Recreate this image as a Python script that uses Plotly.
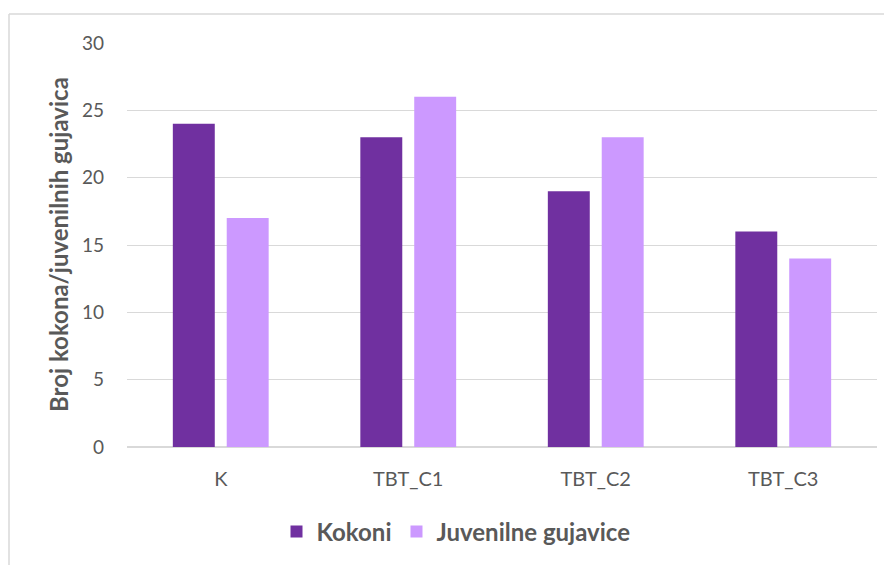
import plotly.graph_objects as go

categories = ["K", "TBT_C1", "TBT_C2", "TBT_C3"]
kokoni = [24, 23, 19, 16]
juvenilne = [17, 26, 23, 14]
series_names = ["Kokoni", "Juvenilne gujavice"]
y_ticks = [0, 5, 10, 15, 20, 25, 30]

FONT = "Lato, 'Open Sans', sans-serif"
GRAY = "#595959"

# page body has an 8px default margin; plot area in window: x 127..877, y 43..447
OFF = 8
L, R, T, B = 127 - OFF, 877 - OFF, 43 - OFF, 447 - OFF
W, H = 892, 565
PW, PH = R - L, B - T


def px_x(x):
    return (x - OFF - L) / PW


def px_y(y):
    return (B - (y - OFF)) / PH


fig = go.Figure()
fig.add_trace(go.Bar(x=categories, y=kokoni, name=series_names[0],
                     marker=dict(color="#7030A0", line=dict(width=0))))
fig.add_trace(go.Bar(x=categories, y=juvenilne, name=series_names[1],
                     marker=dict(color="#CC99FF", line=dict(width=0))))

fig.update_layout(
    width=W, height=H,
    margin=dict(l=L, r=W - R, t=T, b=H - B, autoexpand=False),
    paper_bgcolor="white", plot_bgcolor="white",
    barmode="group", bargap=0.425, bargroupgap=0.222,
    font=dict(family=FONT, color=GRAY, size=20),
    showlegend=True,
    legend=dict(orientation="h", x=px_x(456), xanchor="center", y=px_y(532), yanchor="middle",
                font=dict(size=24, color=GRAY, family=FONT, weight="bold"),
                itemwidth=30, traceorder="normal"),
    xaxis=dict(showgrid=False, showline=False, ticks="", tickfont=dict(size=20, color=GRAY),
               ticklabelstandoff=18, automargin=False),
    yaxis=dict(range=[0, 30], tickvals=y_ticks, showgrid=True, gridcolor="#d9d9d9", gridwidth=1,
               zeroline=True, zerolinecolor="#d9d9d9", zerolinewidth=2,
               showline=False, ticks="", tickfont=dict(size=19, color=GRAY),
               ticklabelstandoff=22, automargin=False),
    annotations=[dict(text="<b>Broj kokona/juvenilnih gujavica</b>", textangle=-90,
                      xref="paper", yref="paper", x=px_x(58), y=px_y(245),
                      xanchor="center", yanchor="middle", showarrow=False,
                      font=dict(size=24, color=GRAY, family=FONT))],
    shapes=[
        dict(type="line", xref="paper", yref="paper", x0=px_x(9), x1=px_x(9),
             y0=px_y(14), y1=px_y(580), line=dict(color="#d9d9d9", width=1.5)),
        dict(type="line", xref="paper", yref="paper", x0=px_x(9), x1=px_x(900),
             y0=px_y(14), y1=px_y(14), line=dict(color="#d9d9d9", width=1.5)),
    ],
)

fig.write_html("out.html")
